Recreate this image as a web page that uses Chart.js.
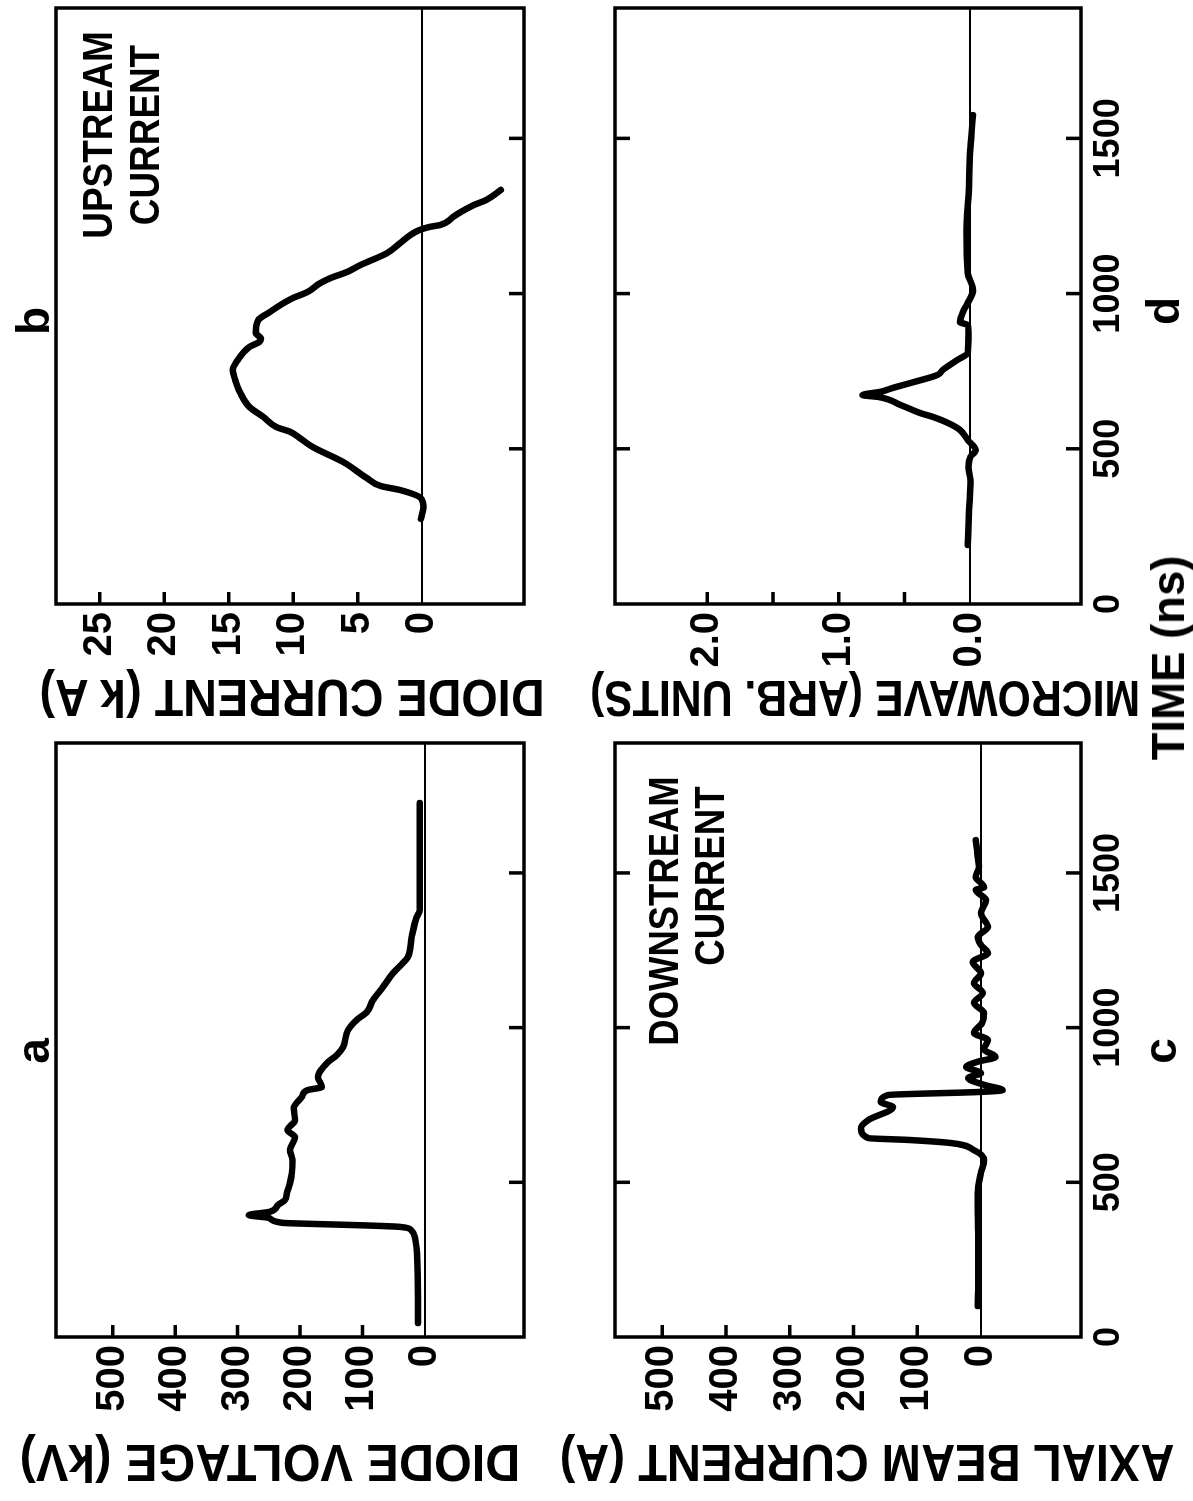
<!DOCTYPE html>
<html>
<head>
<meta charset="utf-8">
<title>Diode and beam traces</title>
<script src="https://cdn.jsdelivr.net/npm/chart.js@4.4.1/dist/chart.umd.min.js"></script>
<style>
  html, body { margin: 0; padding: 0; background: #fff; }
  body { width: 1193px; height: 1501px; position: relative; overflow: hidden; }
  /* figure is laid out upright (1501 x 1193) and then turned a quarter turn left */
  #page { position: absolute; left: 0; top: 0; width: 1501px; height: 1193px;
          transform-origin: 0 0; transform: translate(0, 1501px) rotate(-90deg); }
  canvas { position: absolute; }
  .txt { position: absolute; font-family: "Liberation Sans", Arial, sans-serif; font-weight: bold; color: #000;
         white-space: nowrap; line-height: 1; transform: translate(-50%, -50%); }
</style>
</head>
<body>
<div id="page">
  <canvas id="chartA" width="785" height="580" style="left:0;top:0"></canvas>
  <canvas id="chartB" width="716" height="580" style="left:785px;top:0"></canvas>
  <canvas id="chartC" width="785" height="613" style="left:0;top:580px"></canvas>
  <canvas id="chartD" width="716" height="613" style="left:785px;top:580px"></canvas>

  <div class="txt" style="left:450px;top:33px;font-size:46px">a</div>
  <div class="txt" style="left:1180px;top:33px;font-size:46px">b</div>
  <div class="txt" style="left:450px;top:1160px;font-size:46px">c</div>
  <div class="txt" style="left:1190px;top:1163px;font-size:46px">d</div>
  <div class="txt" data-w="205" style="left:843px;top:1168px;font-size:46px">TIME (ns)</div>

  <div class="txt" data-w="208" style="left:1366px;top:98px;font-size:42px">UPSTREAM</div>
  <div class="txt" data-w="180" style="left:1366px;top:145px;font-size:42px">CURRENT</div>
  <div class="txt" data-w="269" style="left:590px;top:664px;font-size:42px">DOWNSTREAM</div>
  <div class="txt" data-w="179" style="left:625px;top:710px;font-size:42px">CURRENT</div>

  <div class="txt" data-w="500" data-up="1" style="left:38px;top:270px;font-size:52px">DIODE VOLTAGE (kV)</div>
  <div class="txt" data-w="615" data-up="1" style="left:38px;top:867px;font-size:52px">AXIAL BEAM CURRENT (A)</div>
  <div class="txt" data-w="505" data-up="1" style="left:803px;top:292px;font-size:52px">DIODE CURRENT (k A)</div>
  <div class="txt" data-w="550" data-up="1" style="left:803px;top:865px;font-size:50px">MICROWAVE (ARB. UNITS)</div>
</div>

<script>
const timeTicks = [0, 500, 1000, 1500];
const timeMax = 1920;

// a - diode voltage (kV)
const voltTime = [45, 120, 250, 323, 346, 356, 361, 365, 369, 385, 394, 405, 427, 443, 465, 498, 530, 572, 604, 646,
                  669, 701, 740, 776, 798, 808, 840, 889, 911, 937, 992, 1025, 1050, 1089, 1131, 1176, 1209, 1228, 1293, 1357,
                  1380, 1542, 1726];
const voltKV =   [11, 11, 12, 16, 22, 40, 100, 170, 228, 250, 282, 248, 235, 224, 221, 216, 213, 212, 216, 208,
                  220, 208, 210, 197, 188, 165, 171, 155, 141, 131, 123, 109, 93, 83, 67, 51, 35, 27, 21, 13,
                  8, 8, 8];
const voltTicks = [0, 100, 200, 300, 400, 500];

// b - upstream diode current (kA)
const upTime = [274, 312, 341, 367, 380, 406, 457, 506, 535, 554, 570, 602, 635, 680, 722, 754, 786, 828, 845, 855,
                873, 915, 941, 963, 986, 1005, 1034, 1050, 1070, 1092, 1115, 1131, 1163, 1189, 1205, 1215, 1221, 1247, 1263, 1285,
                1302, 1334];
const upKA =   [0.1, -0.1, 0.1, 1.7, 3.2, 4.3, 6.1, 8.5, 9.5, 10.2, 11.3, 12.3, 13.4, 14.1, 14.5, 14.7, 14.3, 13.4, 12.6, 12.5,
                12.9, 12.7, 11.8, 11.0, 10.0, 8.9, 7.9, 7.1, 5.8, 4.8, 3.5, 2.7, 1.7, 0.9, 0.2, -0.6, -1.4, -2.4, -3.0, -4.0,
                -5.0, -6.1];
const upTicks = [0, 5, 10, 15, 20, 25];

// c - downstream axial beam current (A)
const downTime = [100, 200, 300, 410, 465, 530, 572, 604, 627, 637, 643, 675, 701, 743, 760, 782, 792, 798, 815, 837,
                  853, 873, 890, 905, 930, 960, 983, 1015, 1047, 1080, 1112, 1144, 1176, 1212, 1241, 1267, 1293, 1325, 1370, 1412,
                  1445, 1454, 1487, 1520, 1551, 1606];
const downAmp =  [5, 4, 4, 5, 5, 0, -5, 11, 47, 114, 177, 188, 177, 138, 157, 146, 3, -34, -5, 20,
                  0, 23, 5, -23, -5, -11, 11, -2, -5, 11, -3, 11, 0, 13, -11, 0, 5, -11, 0, -8,
                  8, -5, 8, 3, 5, 8];
const downTicks = [0, 100, 200, 300, 400, 500];

// d - microwave (arb. units)
const mwTime = [190, 300, 399, 441, 474, 496, 528, 561, 583, 602, 615, 641, 667, 673, 684, 696, 715, 738, 754, 786,
                809, 873, 899, 908, 947, 970, 1012, 1066, 1205, 1311, 1472, 1575];
const mwArb =  [0.02, 0.01, 0, 0.015, 0, -0.04, 0.02, 0.08, 0.17, 0.28, 0.38, 0.53, 0.70, 0.82, 0.68, 0.59, 0.43, 0.25, 0.21, 0.10,
                0.02, 0.015, 0.02, 0.08, 0.05, 0.02, -0.02, 0.02, 0.03, 0.015, 0, -0.02];
const mwTicks = [0, 0.5, 1, 1.5, 2];

const FONT = '"Liberation Sans", Arial, sans-serif';

// squeeze the hand-lettered labels to their lengths in the figure
document.querySelectorAll('.txt[data-w]').forEach(el => {
  const k = Number(el.dataset.w) / el.offsetWidth;
  el.style.transform = 'translate(-50%, -50%)' + (el.dataset.up ? ' rotate(-90deg)' : '') + ' scaleX(' + k.toFixed(3) + ')';
});

// box outline and the short inward tick marks
const frameTicks = {
  id: 'frameTicks',
  afterDatasetsDraw(chart, args, opts) {
    const { ctx, chartArea: a, scales: { x, y } } = chart;
    ctx.save();
    ctx.strokeStyle = '#000';
    ctx.lineWidth = 3.5;
    ctx.beginPath();
    x.ticks.forEach(t => {
      if (t.value <= x.min || t.value >= x.max) return;
      const px = x.getPixelForValue(t.value);
      ctx.moveTo(px, a.bottom);
      ctx.lineTo(px, a.bottom - 15);
      if (opts.bothSides) {
        ctx.moveTo(px, a.top);
        ctx.lineTo(px, a.top + 15);
      }
    });
    y.ticks.forEach(t => {
      if (t.value === 0 || t.value <= y.min || t.value >= y.max) return;
      const py = y.getPixelForValue(t.value);
      ctx.moveTo(a.left, py);
      ctx.lineTo(a.left + 12, py);
    });
    ctx.stroke();
    ctx.strokeRect(a.left, a.top, a.right - a.left, a.bottom - a.top);
    ctx.restore();
  }
};

function panel(id, times, values, o) {
  const pts = times.map((t, i) => ({ x: t, y: values[i] }));
  return new Chart(document.getElementById(id), {
    type: 'line',
    data: {
      datasets: [{
        data: pts,
        borderColor: '#000',
        borderWidth: 6.5,
        pointRadius: 0,
        cubicInterpolationMode: 'monotone',
        borderCapStyle: 'round',
        borderJoinStyle: 'round'
      }]
    },
    options: {
      responsive: false,
      animation: false,
      events: [],
      layout: { padding: o.padding },
      plugins: {
        legend: { display: false },
        tooltip: { enabled: false },
        frameTicks: { bothSides: o.bothSides }
      },
      scales: {
        x: {
          type: 'linear',
          min: 0,
          max: timeMax,
          afterBuildTicks: s => { s.ticks = timeTicks.map(v => ({ value: v })); },
          afterFit: s => { s.height = o.xHeight; },
          grid: { display: false, drawTicks: false },
          border: { display: false },
          ticks: {
            display: o.timeLabels,
            autoSkip: false,
            maxRotation: 0,
            padding: 6,
            color: '#000',
            font: { family: FONT, size: 36, weight: 'bold' },
            callback: v => String(v)
          }
        },
        y: {
          min: o.yMin,
          max: o.yMax,
          afterBuildTicks: s => { s.ticks = o.yTicks.map(v => ({ value: v })); },
          afterFit: s => { s.width = o.yWidth; },
          grid: {
            drawTicks: false,
            lineWidth: 2,
            color: c => (c.tick && c.tick.value === 0 ? '#000' : 'rgba(0,0,0,0)')
          },
          border: { display: false },
          ticks: {
            padding: 8,
            color: '#000',
            font: { family: FONT, size: 40, weight: 'bold' },
            callback: o.label || (v => String(v))
          }
        }
      }
    },
    plugins: [frameTicks]
  });
}

panel('chartA', voltTime, voltKV, {
  yMin: -159, yMax: 591, yTicks: voltTicks, yWidth: 164, xHeight: 10,
  padding: { top: 56, right: 27, bottom: 46, left: 0 }, timeLabels: false, bothSides: false
});
panel('chartB', upTime, upKA, {
  yMin: -7.9, yMax: 28.4, yTicks: upTicks, yWidth: 112, xHeight: 10,
  padding: { top: 56, right: 8, bottom: 46, left: 0 }, timeLabels: false, bothSides: false
});
panel('chartC', downTime, downAmp, {
  yMin: -157, yMax: 574, yTicks: downTicks, yWidth: 164, xHeight: 60,
  padding: { top: 35, right: 27, bottom: 52, left: 0 }, timeLabels: true, bothSides: true
});
panel('chartD', mwTime, mwArb, {
  yMin: -0.84, yMax: 2.70, yTicks: mwTicks, yWidth: 112, xHeight: 60,
  padding: { top: 35, right: 8, bottom: 52, left: 0 }, timeLabels: true, bothSides: true,
  label: v => (v % 1 === 0 ? v.toFixed(1) : '')
});
</script>
</body>
</html>
